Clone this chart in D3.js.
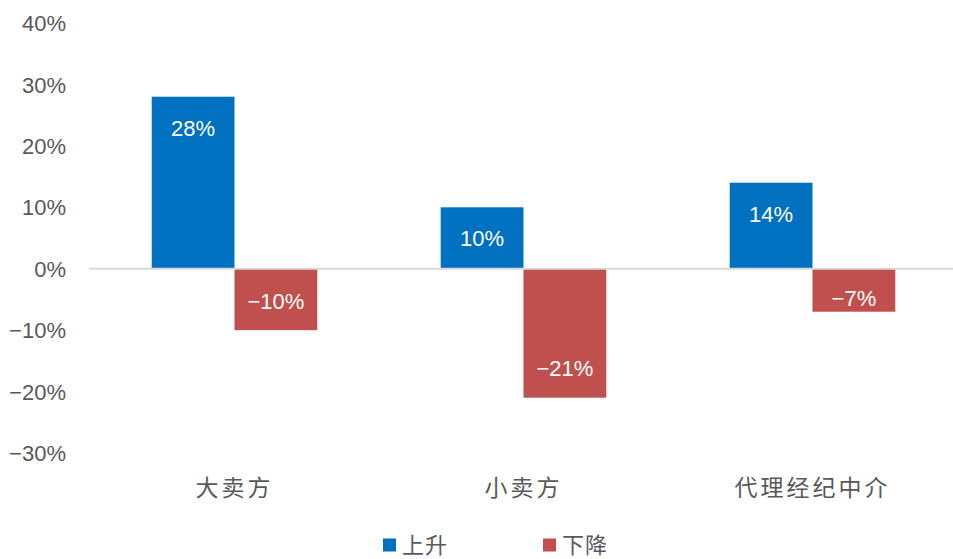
<!DOCTYPE html>
<html>
<head>
<meta charset="utf-8">
<script src="https://cdn.jsdelivr.net/npm/d3@7"></script>
<style>
  html, body { margin: 0; padding: 0; background: #fff; }
  svg { display: block; }
</style>
</head>
<body>
<svg id="chart" width="953" height="559"></svg>
<script>
// Categories and series
const categories = ["大卖方", "小卖方", "代理经纪中介"];
const seriesNames = ["上升", "下降"];
const riseValues = [0.28, 0.10, 0.14];
const fallValues = [-0.10, -0.21, -0.07];
const yTicks = [0.4, 0.3, 0.2, 0.1, 0, -0.1, -0.2, -0.3];
const colors = ["#0070C0", "#C0504D"];

const svg = d3.select("#chart");
const numFont = "'Liberation Sans Narrow', 'Arial Narrow', Arial, sans-serif";
const cjkFont = "'Noto Sans CJK SC', sans-serif";
const textColor = "#595959";

const plotLeft = 89, plotRight = 953;
const y = d3.scaleLinear().domain([-0.3, 0.4]).range([453, 23]);

const x = d3.scaleBand().domain(categories).range([plotLeft + 1, plotRight + 4])
  .paddingInner(0.427).paddingOuter(0.2135);
const xSub = d3.scaleBand().domain(seriesNames).range([0, x.bandwidth()]);

const pct = v => (v < 0 ? "\u2212" : "") + Math.round(Math.abs(v) * 100) + "%";

// Y axis labels (no axis line)
const yAxis = d3.axisLeft(y).tickValues(yTicks).tickSize(0).tickPadding(0).tickFormat(pct);
const yg = svg.append("g").attr("transform", "translate(66,0)").call(yAxis);
yg.select(".domain").remove();
yg.selectAll("text")
  .attr("font-family", numFont)
  .attr("font-size", 22)
  .attr("fill", textColor)
  .attr("dy", "0.35em");

// Bars
const rows = categories.map((c, i) => ({ cat: c, vals: [riseValues[i], fallValues[i]] }));
const groups = svg.append("g").selectAll("g").data(rows).join("g")
  .attr("transform", d => `translate(${x(d.cat)},0)`);

groups.selectAll("rect")
  .data(d => d.vals.map((v, j) => ({ name: seriesNames[j], v, j })))
  .join("rect")
  .attr("x", d => xSub(d.name))
  .attr("width", xSub.bandwidth())
  .attr("y", d => y(Math.max(0, d.v)))
  .attr("height", d => Math.abs(y(d.v) - y(0)))
  .attr("fill", d => colors[d.j]);

// Zero line
svg.append("line")
  .attr("x1", plotLeft).attr("x2", plotRight)
  .attr("y1", y(0)).attr("y2", y(0))
  .attr("stroke", "#d9d9d9").attr("stroke-width", 2);

// Value labels inside bar ends
groups.selectAll("text.val")
  .data(d => d.vals.map((v, j) => ({ name: seriesNames[j], v, j })))
  .join("text")
  .attr("class", "val")
  .attr("x", d => xSub(d.name) + xSub.bandwidth() / 2)
  .attr("y", d => d.v >= 0
      ? Math.min(y(d.v) + 32, y(0) - 30)
      : Math.max(y(d.v) - 29, y(0) + 30))
  .attr("dy", "0.35em")
  .attr("text-anchor", "middle")
  .attr("font-family", numFont)
  .attr("font-size", 22)
  .attr("fill", "#fff")
  .text(d => pct(d.v));

// Category labels
svg.append("g").selectAll("text").data(categories).join("text")
  .attr("x", d => x(d) + x.bandwidth() / 2)
  .attr("y", 488)
  .attr("dy", "0.35em")
  .attr("text-anchor", "middle")
  .attr("font-family", cjkFont)
  .attr("font-size", 23)
  .attr("letter-spacing", 3)
  .attr("fill", textColor)
  .text(d => d);

// Legend
const legendItems = [{ name: seriesNames[0], x: 383 }, { name: seriesNames[1], x: 543 }];
const lg = svg.append("g").selectAll("g").data(legendItems).join("g")
  .attr("transform", d => `translate(${d.x},545)`);
lg.append("rect").attr("x", 0).attr("y", -6.5).attr("width", 13).attr("height", 13)
  .attr("fill", (d, i) => colors[i]);
lg.append("text").attr("x", 19).attr("dy", "0.35em")
  .attr("font-family", cjkFont).attr("font-size", 22)
  .attr("letter-spacing", 1)
  .attr("fill", textColor)
  .text(d => d.name);
</script>
</body>
</html>
